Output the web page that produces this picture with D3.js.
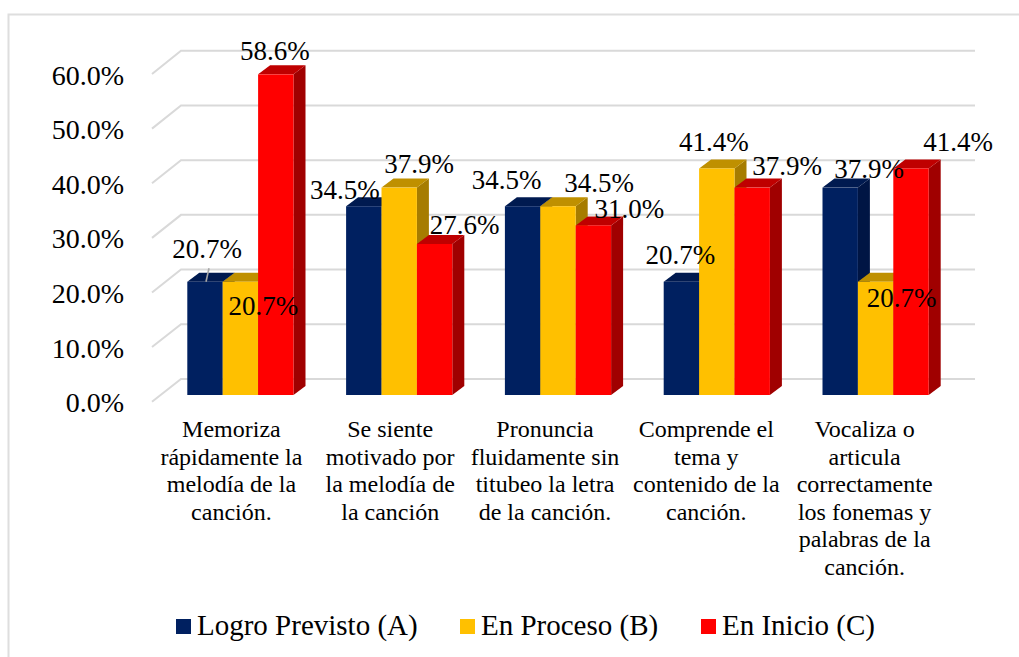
<!DOCTYPE html>
<html>
<head>
<meta charset="utf-8">
<script src="https://cdn.jsdelivr.net/npm/d3@7"></script>
<style>
  body { margin: 0; background: #fff; }
  text { font-family: "Liberation Serif", serif; fill: #000; }
</style>
</head>
<body>
<svg id="chart" width="1019" height="657"></svg>
<script>
// data
const categories = [
    ["Memoriza", "rápidamente la", "melodía de la", "canción."],
    ["Se siente", "motivado por", "la melodía de", "la canción"],
    ["Pronuncia", "fluidamente sin", "titubeo la letra", "de la canción."],
    ["Comprende el", "tema y", "contenido de la", "canción."],
    ["Vocaliza o", "articula", "correctamente", "los fonemas y", "palabras de la", "canción."]
];
const seriesNames = ["Logro Previsto (A)", "En Proceso (B)", "En Inicio (C)"];
const logroPrevisto = [20.7, 34.5, 34.5, 20.7, 37.9];
const enProceso = [20.7, 37.9, 34.5, 41.4, 20.7];
const enInicio = [58.6, 27.6, 31.0, 37.9, 41.4];
const yTicks = [0, 10, 20, 30, 40, 50, 60];

// the data labels were moved by hand in the original, offset from each bar's top centre
const labelNudges = [
    [[2, -24], [-19, -7], [-16, -17], [-1, -18], [29, -10]],
    [[23, 33], [20, -15], [41, -14], [-3, -17], [26, 25]],
    [[-1, -14], [30, -10], [36, -7], [35, -13], [47, -17]]
];
const categoryShift = [0, 0, -4, -1.5, -2];

const faceColors = ["#002060", "#ffc000", "#ff0000"];
const topColors = ["#001a50", "#bf9000", "#bf0000"];
const sideColors = ["#001544", "#a67c00", "#a00000"];
const legendX = [176, 460, 701];

const allSeries = [logroPrevisto, enProceso, enInicio];
const svg = d3.select("#chart");

// outer chart frame, only left and top are visible
svg.append("path")
    .attr("d", "M8.5,657V14.5H1019")
    .attr("fill", "none")
    .attr("stroke", "#dedede")
    .attr("stroke-width", 2);

const wallDx = 29; // front of the floor to the back wall
const barDx = 12, barDy = 9; // bar depth
const yBack = d3.scaleLinear().domain([0, 60]).range([379, 50.7]);
const yFront = d3.scaleLinear().domain([0, 60]).range([401.7, 74]);
const yFace = d3.scaleLinear().domain([0, 60]).range([395, 66.7]);
const xFront = d3.scaleBand().domain(d3.range(categories.length)).range([152, 946]);
const xBar = d3.scaleBand().domain(d3.range(allSeries.length)).range([0, 106.2]);
const barOffset = (xFront.bandwidth() - xBar.range()[1]) / 2 + 9;

// gridlines
svg.append("g").selectAll("path")
    .data(yTicks)
    .enter().append("path")
    .attr("d", d => `M${xFront.range()[0]},${yFront(d)}L${xFront.range()[0] + wallDx},${yBack(d)}H${xFront.range()[1] + wallDx}`)
    .attr("fill", "none")
    .attr("stroke", "#d9d9d9")
    .attr("stroke-width", 2);

// y axis
const yAxis = svg.append("g")
    .attr("transform", "translate(124,0)")
    .call(d3.axisLeft(yFront).tickValues(yTicks).tickSize(0).tickPadding(0).tickFormat(d => d.toFixed(1) + "%"));
yAxis.select(".domain").remove();
yAxis.selectAll("text")
    .attr("dy", "0.36em")
    .style("font-family", '"Liberation Serif", serif')
    .style("font-size", "28px");

// bars, left to right so that each front hides the side of the one before
const groups = svg.append("g").selectAll("g")
    .data(categories)
    .enter().append("g")
    .attr("transform", (d, i) => `translate(${xFront(i) + barOffset},0)`);

groups.each(function(d, i) {
    const g = d3.select(this);
    allSeries.forEach((values, s) => {
        const x0 = xBar(s), x1 = x0 + xBar.bandwidth();
        const top = yFace(values[i]), base = yFace(0);
        g.append("path")
            .attr("d", `M${x1},${top}l${barDx},${-barDy}V${base - barDy}L${x1},${base}Z`)
            .attr("fill", sideColors[s]);
        g.append("path")
            .attr("d", `M${x0},${top}l${barDx},${-barDy}H${x1 + barDx}L${x1},${top}Z`)
            .attr("fill", topColors[s]);
        g.append("rect")
            .attr("x", x0)
            .attr("y", top)
            .attr("width", xBar.bandwidth())
            .attr("height", base - top)
            .attr("fill", faceColors[s]);
    });
});

// leader line of the first label
const leaderX = xFront(0) + barOffset + xBar(0) + xBar.bandwidth() / 2;
svg.append("line")
    .attr("x1", leaderX + 4)
    .attr("y1", yFace(logroPrevisto[0]) - 13.5)
    .attr("x2", leaderX + 1)
    .attr("y2", yFace(logroPrevisto[0]))
    .attr("stroke", "#a6a6a6")
    .attr("stroke-width", 1.6);

// data labels
allSeries.forEach((values, s) => {
    svg.append("g").selectAll("text")
        .data(values)
        .enter().append("text")
        .attr("x", (d, i) => xFront(i) + barOffset + xBar(s) + xBar.bandwidth() / 2 + labelNudges[s][i][0])
        .attr("y", (d, i) => yFace(d) + labelNudges[s][i][1])
        .attr("text-anchor", "middle")
        .style("font-size", "27px")
        .text(d => d.toFixed(1) + "%");
});

// category labels
const catLabels = svg.append("g").selectAll("text")
    .data(categories)
    .enter().append("text")
    .attr("text-anchor", "middle")
    .style("font-size", "24px");
catLabels.selectAll("tspan")
    .data((d, i) => d.map(line => ({ line, i })))
    .enter().append("tspan")
    .attr("x", d => xFront(d.i) + xFront.bandwidth() / 2 + categoryShift[d.i])
    .attr("y", (d, j) => 437 + j * 27.5)
    .text(d => d.line);

// legend
const legend = svg.append("g").selectAll("g")
    .data(seriesNames)
    .enter().append("g")
    .attr("transform", (d, i) => `translate(${legendX[i]},619)`);
legend.append("rect")
    .attr("width", 15)
    .attr("height", 15)
    .attr("fill", (d, i) => faceColors[i]);
legend.append("text")
    .attr("x", 21)
    .attr("y", 16)
    .style("font-size", "29px")
    .text(d => d);
</script>
</body>
</html>
